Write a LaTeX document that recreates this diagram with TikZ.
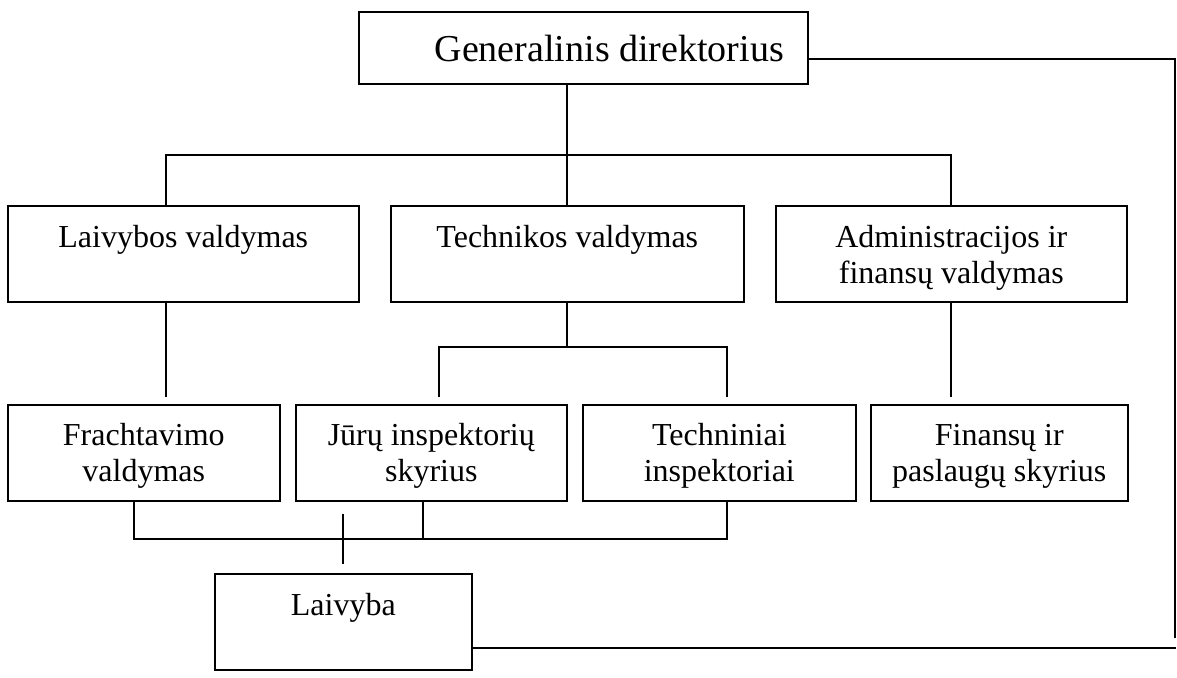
\documentclass[tikz,border=0pt]{standalone}
\usepackage{fontspec}
\setmainfont{Liberation Serif}
\begin{document}
% box contents: width, height, depth of first baseline, text
\newcommand\orgbody[4]{\parbox[c][#2][t]{#1}{\centering\rule{0pt}{#3}#4\par}}
\begin{tikzpicture}[x=1pt,y=-1pt,
  orgbox/.style={draw,line width=1.6pt,inner sep=0pt,anchor=north west,
    font=\fontsize{32}{36}\selectfont},
  topbox/.style={orgbox,font=\fontsize{38}{42}\selectfont},
  link/.style={line width=1.6pt,line cap=rect}]
\useasboundingbox (0,0) rectangle (1177,677);

% top level (title sits a little right of centre)
\node[topbox] (gd) at (358,11) {\orgbody{449pt}{72pt}{50pt}{\hspace*{52pt}Generalinis direktorius}};

% departments
\node[orgbox] (lv) at (7,205)   {\orgbody{351pt}{96pt}{42pt}{Laivybos valdymas}};
\node[orgbox] (tv) at (390,205) {\orgbody{353pt}{96pt}{42pt}{Technikos valdymas}};
\node[orgbox] (av) at (775,205) {\orgbody{351pt}{96pt}{42pt}{Administracijos ir\\finansų valdymas}};

% units
\node[orgbox] (fr) at (7,404)   {\orgbody{272pt}{96pt}{41pt}{Frachtavimo\\valdymas}};
\node[orgbox] (jr) at (295,404) {\orgbody{271pt}{96pt}{41pt}{Jūrų inspektorių\\skyrius}};
\node[orgbox] (ti) at (582,404) {\orgbody{273pt}{96pt}{41pt}{Techniniai\\inspektoriai}};
\node[orgbox] (fi) at (870,404) {\orgbody{257pt}{96pt}{41pt}{Finansų ir\\paslaugų skyrius}};

% fleet
\node[orgbox] (lb) at (214,573) {\orgbody{257pt}{96pt}{42pt}{Laivyba}};

% bus points
\coordinate (b1l) at (166,155);
\coordinate (b1m) at (567,155);
\coordinate (b1r) at (951,155);
\coordinate (b2m) at (567,347);
\coordinate (b2l) at (439,347);
\coordinate (b2r) at (727,347);
\coordinate (b3l) at (134,539);
\coordinate (b3m) at (423,539);
\coordinate (b3r) at (727,539);
\coordinate (r1) at (1175,59);
\coordinate (r2) at (1175,637);
\coordinate (r3) at (1175,648);
\coordinate (s1) at (343,515);
\coordinate (s2) at (343,563);

% director to departments
\draw[link] (b1m |- gd.south) -- (b1m);
\draw[link] (b1l |- lv.north) -- (b1l) -- (b1r) -- (b1r |- av.north);
\draw[link] (b1m) -- (b1m |- tv.north);

% departments to units
\draw[link] (b1l |- lv.south) -- (166,396);
\draw[link] (b2m |- tv.south) -- (b2m);
\draw[link] (439,396) -- (b2l) -- (b2r) -- (727,396);
\draw[link] (b1r |- av.south) -- (951,396);

% units to fleet
\draw[link] (b3l |- fr.south) -- (b3l) -- (b3r) -- (b3r |- ti.south);
\draw[link] (b3m |- jr.south) -- (b3m);
\draw[link] (s1) -- (s2);

% direct line from director to fleet
\draw[link] (r1 -| gd.east) -- (r1) -- (r2);
\draw[link] (r3 -| lb.east) -- (r3);
\end{tikzpicture}
\end{document}
